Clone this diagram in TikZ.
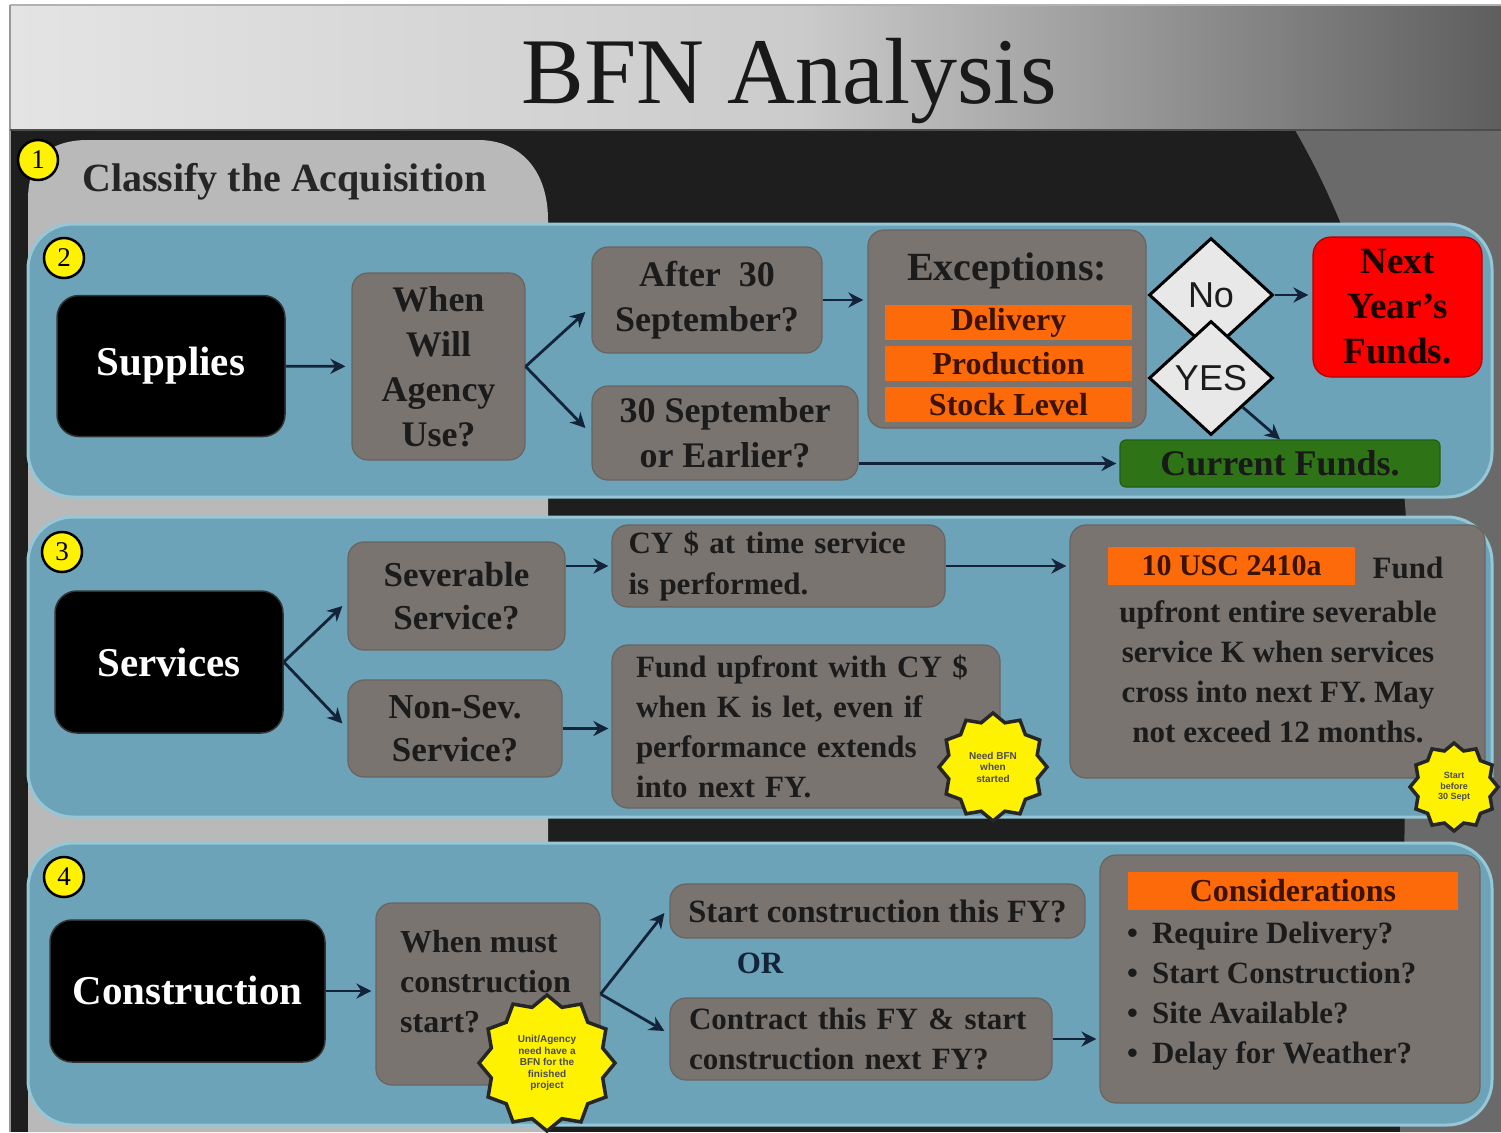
\documentclass[tikz,border=0pt]{standalone}
\usepackage{fontspec}
\setmainfont{Liberation Serif}
\newfontfamily\sansf{Liberation Sans}
\usetikzlibrary{arrows.meta,shapes.geometric,calc}
\definecolor{titleL}{HTML}{E4E4E4}
\definecolor{titleM}{HTML}{CBCBCB}
\definecolor{titleR}{HTML}{5E5E5E}
\definecolor{darkbg}{HTML}{1E1E1E}
\definecolor{rightgray}{HTML}{6A6A6A}
\definecolor{lightpanel}{HTML}{B9B9B9}
\definecolor{panelblue}{HTML}{6CA3B8}
\definecolor{paneledge}{HTML}{95C7D6}
\definecolor{boxgray}{HTML}{7A7470}
\definecolor{boxedge}{HTML}{6A6461}
\definecolor{orangec}{HTML}{FD6A0A}
\definecolor{redc}{HTML}{FE0000}
\definecolor{greenc}{HTML}{2E7416}
\definecolor{diafill}{HTML}{E8E8E8}
\definecolor{arrowc}{HTML}{13243A}
\definecolor{txt}{HTML}{1B1B1B}
\definecolor{otxt}{HTML}{3B1300}
\begin{document}
\begin{tikzpicture}[x=1pt,y=-1pt,
  panel/.style={fill=panelblue, draw=paneledge, line width=3pt, rounded corners=45pt},
  gbox/.style={draw=boxedge, fill=boxgray, line width=1.2pt, rounded corners=16pt, inner sep=0pt, text=txt, align=center},
  bbox/.style={fill=black, draw=black!80!white, line width=1.5pt, rounded corners=22pt, inner sep=0pt, text=white, font=\bfseries\fontsize{41}{45}\selectfont},
  obar/.style={fill=orangec, inner sep=0pt, text=otxt, font=\bfseries\fontsize{32}{36}\selectfont},
  arr/.style={draw=arrowc, line width=2.8pt, -{Stealth[length=15pt,width=15pt]}},
  badge/.style={circle, fill=yellow, draw=black, line width=2.5pt, minimum size=40pt, inner sep=0pt, font=\fontsize{27}{27}\selectfont},
  burst/.style={star, star points=12, star point ratio=1.18, fill=yellow, draw=black!85, line width=3.5pt, inner sep=0pt},
  bursttext/.style={font=\sansf\bfseries\fontsize{10}{11.5}\selectfont, align=center, text=black!70},
  dia/.style={diamond, fill=diafill, draw=black, line width=3pt, minimum width=124pt, minimum height=114pt, inner sep=0pt, font=\sansf\fontsize{36}{36}\selectfont, text=txt},
  plain/.style={inner sep=0pt, text=txt}
]
\useasboundingbox (0,0) rectangle (1501,1132);
% ---------- background ----------
\fill[white] (0,0) rectangle (1501,1132);
\fill[darkbg] (10,130) rectangle (1501,1132);
\fill[rightgray] (1295,130) .. controls (1370,260) and (1410,420) .. (1408,600) -- (1400,1132) -- (1501,1132) -- (1501,130) -- cycle;
\shade[left color=titleL, right color=titleM] (10,5) rectangle (800,130);
\shade[left color=titleM, right color=titleR] (800,5) rectangle (1501,130);
\draw[gray!60, line width=1.5pt] (10,5) -- (1501,5);
\draw[gray!80, line width=1.5pt] (10,5) -- (10,1132);
\draw[black!70, line width=2pt] (10,130) -- (1501,130);
\fill[lightpanel] (28,1132) -- (28,200) .. controls (28,160) and (48,140) .. (88,140) -- (478,140) .. controls (520,140) and (548,170) .. (548,220) -- (548,1132) -- cycle;
\node[plain, anchor=base, font=\fontsize{94}{100}\selectfont, text=black!90] (title) at (789,103) {BFN Analysis};
\node[plain, anchor=base west, font=\bfseries\fontsize{40}{44}\selectfont, text=black!85] (classify) at (82,191) {Classify the Acquisition};
% ---------- panels ----------
\draw[panel] (28,224) rectangle (1492,497);
\draw[panel] (28,517) rectangle (1492,817);
\draw[panel] (28,843) rectangle (1492,1125);
\node[badge] (bd1) at (38,160) {1};
\node[badge] (bd2) at (64,258) {2};
\node[badge] (bd3) at (62,552) {3};
\node[badge] (bd4) at (64,877) {4};
% ---------- section 2 ----------
\node[bbox, minimum width=228pt, minimum height=141pt] (sup) at (171,366) {Supplies};
\node[gbox, minimum width=173pt, minimum height=187pt, font=\bfseries\fontsize{36}{45}\selectfont] (when) at (438.5,366.5) {When\\Will\\Agency\\Use?};
\node[gbox, minimum width=230pt, minimum height=106pt, font=\bfseries\fontsize{36}{45}\selectfont] (after) at (707,300) {After\ \ 30\\September?};
\node[gbox, minimum width=266pt, minimum height=94pt, font=\bfseries\fontsize{36}{45}\selectfont] (sep30) at (725,433) {30 September\\or Earlier?};
\node[gbox, minimum width=278pt, minimum height=198pt] (exc) at (1007,329) {};
\node[plain, font=\bfseries\fontsize{40}{44}\selectfont] (excT) at (1007,271) {Exceptions:};
\node[obar, minimum width=247pt, minimum height=35pt] (del) at (1008.5,322.5) {Delivery};
\node[obar, minimum width=247pt, minimum height=35pt] (pro) at (1008.5,363.5) {Production};
\node[obar, minimum width=247pt, minimum height=35pt] (stk) at (1008.5,404.5) {Stock Level};
\node[dia] (no) at (1211,295) {No};
\node[dia] (yes) at (1211,378) {YES};
\node[fill=redc, draw=red!70!black, line width=1.2pt, rounded corners=18pt, inner sep=0pt, minimum width=169pt, minimum height=140pt, align=center, text=black!90!red, font=\bfseries\fontsize{37}{45}\selectfont] (nyf) at (1397.5,307) {Next\\Year’s\\Funds.};
\node[fill=greenc, draw=greenc!80!black, line width=1.2pt, rounded corners=6pt, inner sep=0pt, minimum width=320pt, minimum height=47pt, text=black!90, font=\bfseries\fontsize{36}{40}\selectfont] (curr) at (1280,463.5) {Current Funds.};
\draw[arr, shorten >=6pt] (sup) -- (when);
\draw[arr] (when.east) -- ($(after.west)+(-6,12)$);
\draw[arr] (when.east) -- ($(sep30.west)+(-6,-5)$);
\draw[arr, shorten >=4pt] (after.east) -- (after.east -| exc.west);
\draw[arr, shorten >=4pt] (no.east) -- (no.east -| nyf.west);
\draw[arr] (yes.south east) -- (curr.north);
\draw[arr, shorten >=3pt] (sep30.east |- curr) -- (curr.west);
% ---------- section 3 ----------
\node[bbox, minimum width=228pt, minimum height=142pt] (svc) at (169,662) {Services};
\node[gbox, minimum width=217pt, minimum height=108pt, font=\bfseries\fontsize{35}{43}\selectfont] (sev) at (456.5,596) {Severable\\Service?};
\node[gbox, minimum width=214pt, minimum height=97pt, font=\bfseries\fontsize{35}{43}\selectfont] (nsev) at (455,728.5) {Non-Sev.\\Service?};
\node[gbox, minimum width=333pt, minimum height=82pt, text width=300pt, align=left, font=\bfseries\fontsize{31}{41}\selectfont] (cy) at (778.5,566) {CY \$ at time service\\is performed.};
\node[gbox, minimum width=388pt, minimum height=163pt, text width=340pt, align=left, font=\bfseries\fontsize{31}{40}\selectfont] (fund) at (806,726.5) {Fund upfront with CY \$\\when K is let, even if\\performance extends\\into next FY.};
\node[gbox, minimum width=415pt, minimum height=253pt] (big) at (1277.5,651.5) {};
\node[obar, minimum width=247pt, minimum height=38pt, font=\bfseries\fontsize{30}{34}\selectfont] (usc) at (1231.5,566) {10 USC 2410a};
\node[plain, font=\bfseries\fontsize{31}{40}\selectfont] (fundw) at (1408,568) {Fund};
\node[plain, align=center, font=\bfseries\fontsize{31}{40}\selectfont] (bigT) at (1278,672) {upfront entire severable\\service K when services\\cross into next FY. May\\not exceed 12 months.};
\draw[arr] (svc.east) -- ($(sev.west)+(-5,10)$);
\draw[arr] (svc.east) -- ($(nsev.west)+(-5,-5)$);
\draw[arr, shorten >=3pt] (sev.east |- cy) -- (cy.west);
\draw[arr, shorten >=3pt] (nsev.east) -- (nsev.east -| fund.west);
\draw[arr, shorten >=3pt] (cy.east) -- (cy.east -| big.west);
\node[burst, minimum size=108pt] (b1) at (993,767) {};
\node[bursttext] (b1t) at (b1.center) {Need BFN\\when\\started};
\node[burst, minimum size=88pt] (b2) at (1454,787) {};
\node[bursttext, font=\sansf\bfseries\fontsize{9}{10.5}\selectfont] (b2t) at (b2.center) {Start\\before\\30 Sept};
% ---------- section 4 ----------
\node[bbox, minimum width=275pt, minimum height=142pt] (con) at (187.5,991) {Construction};
\node[gbox, minimum width=224pt, minimum height=182pt] (wm) at (488,994) {};
\node[plain, anchor=west, align=left, font=\bfseries\fontsize{32}{40}\selectfont] (wmT) at (400,982) {When must\\construction\\start?};
\node[gbox, minimum width=415pt, minimum height=54pt, font=\bfseries\fontsize{32.5}{40}\selectfont] (stc) at (877.5,911) {Start construction this FY?};
\node[plain, text=arrowc, font=\bfseries\fontsize{31}{36}\selectfont] (orn) at (760,963) {OR};
\node[gbox, minimum width=382pt, minimum height=82pt, text width=344pt, align=left, font=\bfseries\fontsize{31}{40}\selectfont] (ctr) at (861,1039) {Contract this FY \& start\\construction next FY?};
\node[gbox, minimum width=380pt, minimum height=248pt] (cons) at (1290,979) {};
\node[obar, minimum width=330pt, minimum height=38pt] (consT) at (1293,891) {Considerations};
\node[plain, anchor=west, align=left, font=\bfseries\fontsize{31}{40}\selectfont] (consL) at (1127,996.5) {\textbullet\hspace{14pt}Require Delivery?\\\textbullet\hspace{14pt}Start Construction?\\\textbullet\hspace{14pt}Site Available?\\\textbullet\hspace{14pt}Delay for Weather?};
\draw[arr, shorten >=4pt] (con.east) -- (con.east -| wm.west);
\draw[arr] (wm.east) -- ($(stc.west)+(-5,2)$);
\draw[arr] (wm.east) -- ($(ctr.west)+(-5,-8)$);
\draw[arr, shorten >=3pt] (ctr.east) -- (ctr.east -| cons.west);
\node[burst, minimum size=136pt] (b3) at (547,1063) {};
\node[bursttext] (b3t) at (b3.center) {Unit/Agency\\need have a\\BFN for the\\finished\\project};
\end{tikzpicture}
\end{document}
